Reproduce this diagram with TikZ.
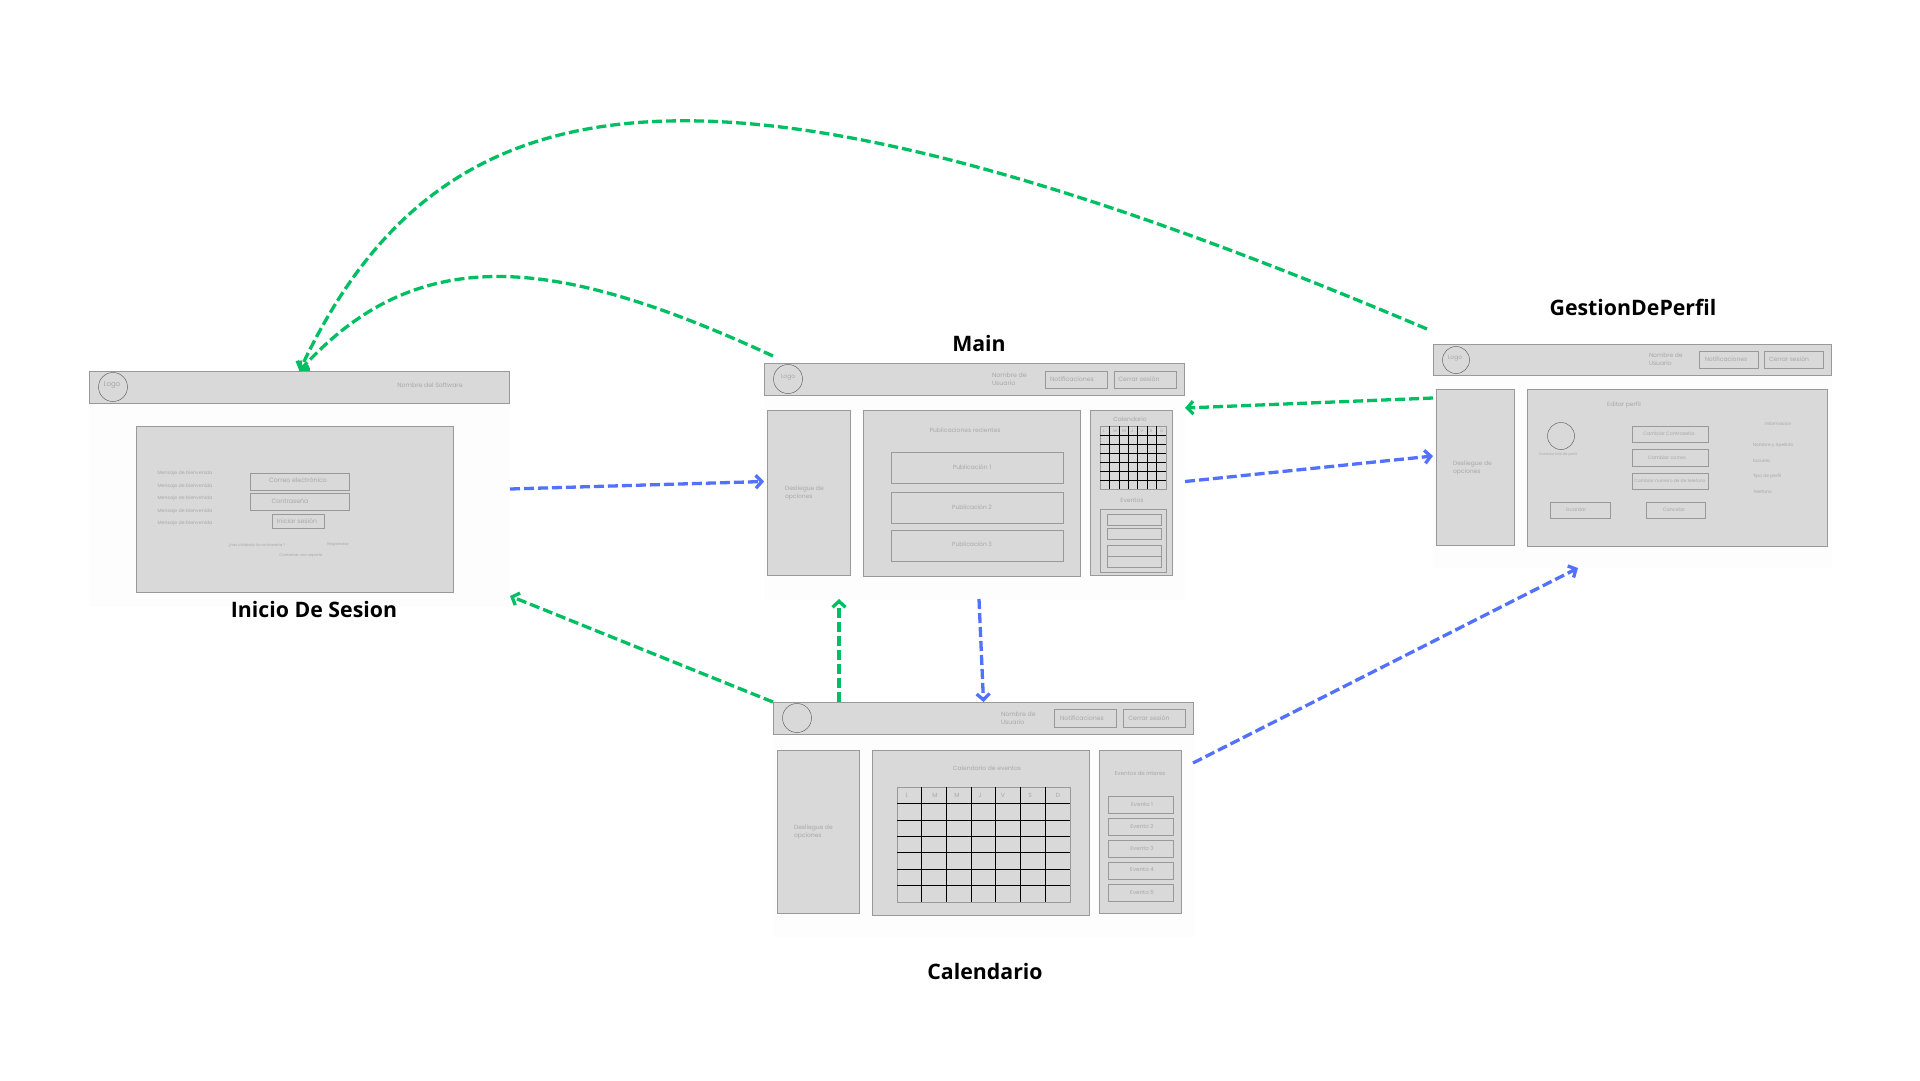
\documentclass[tikz,border=0pt]{standalone}
\usepackage{fontspec}
\setmainfont{Poppins}
\newfontfamily\titlefont{Open Sans}
\usetikzlibrary{arrows.meta}
\definecolor{panelgray}{HTML}{D9D9D9}
\definecolor{edgegray}{HTML}{999999}
\definecolor{textgray}{HTML}{A8A8A8}
\definecolor{pagewhite}{HTML}{FDFDFD}
\definecolor{backgreen}{HTML}{00BF63}
\definecolor{goblue}{HTML}{5271FF}
\tikzset{
  wh/.style 2 args={minimum width=#1pt, minimum height=#2pt},
  pagebox/.style={fill=pagewhite, inner sep=0pt, outer sep=0pt},
  panel/.style={fill=panelgray, draw=edgegray, line width=0.7pt, inner sep=0pt, outer sep=0pt, text=textgray, font=\fontsize{6}{8}\selectfont},
  round/.style={circle, draw=black!60, line width=0.5pt, inner sep=0pt, outer sep=0pt, minimum size=#1pt},
  lbl/.style={text=textgray, inner sep=0pt, outer sep=0pt, align=left, font=\fontsize{#1}{8}\selectfont},
  heading/.style={text=black, inner sep=0pt, font=\titlefont\bfseries\fontsize{21.3}{25}\selectfont},
  gridline/.style={black, line width=0.7pt},
  backlink/.style={draw=backgreen, line width=3.3pt, dash pattern=on 10pt off 4pt, -{Straight Barb[length=6pt,width=13pt,line width=3.3pt]}},
  golink/.style={draw=goblue, line width=3.3pt, dash pattern=on 10pt off 4pt, -{Straight Barb[length=6pt,width=13pt,line width=3.3pt]}},
}
\begin{document}
\begin{tikzpicture}[x=1pt,y=-1pt]
\useasboundingbox (0,0) rectangle (1920,1080);
\fill[white] (0,0) rectangle (1920,1080);

% Inicio De Sesion
\node[pagebox, wh={421}{236}] (inicioPage) at (299.5,489) {};
\node[panel, wh={420}{32.5}] (inicioHead) at (299.5,387.5) {};
\node[round=29] (inicioLogo) at (113,387) {};
\node[lbl=7] (inicioLogoTxt) at (112,385) {Logo};
\node[lbl=6.2] (inicioSoft) at (430,385) {Nombre del Software};
\node[panel, wh={317.5}{166.5}] (inicioBody) at (295,509.5) {};
\node[lbl=4.7] (inicioMsgA) at (185,473) {Mensaje de bienvenida};
\node[lbl=4.7] (inicioMsgB) at (185,486) {Mensaje de bienvenida};
\node[lbl=4.7] (inicioMsgC) at (185,498) {Mensaje de bienvenida};
\node[lbl=4.7] (inicioMsgD) at (185,511) {Mensaje de bienvenida};
\node[lbl=4.7] (inicioMsgE) at (185,523) {Mensaje de bienvenida};
\node[panel, wh={99}{17}] (inicioMail) at (299.5,481.5) {};
\node[lbl=6.2] (inicioMailTxt) at (298,480) {Correo electrónico};
\node[panel, wh={99}{17}] (inicioPass) at (299.5,501.5) {};
\node[lbl=6.2] (inicioPassTxt) at (290,501) {Contraseña};
\node[panel, wh={52}{14}] (inicioBtn) at (298,521) {};
\node[lbl=6.2] (inicioBtnTxt) at (297,521) {Iniciar sesión};
\node[lbl=3.8] (inicioForgot) at (257,545) {¿has olvidado la contraseña ?};
\node[lbl=3.8] (inicioReg) at (338,545) {Registrarse};
\node[lbl=3.8] (inicioHelp) at (301,556) {Contactar con soporte};
\node[heading] (inicioTitle) at (314,610) {Inicio De Sesion};

% Main
\node[pagebox, wh={421}{237}] (mainPage) at (974.5,481.5) {};
\node[panel, wh={420}{32.5}] (mainHead) at (974.5,379.5) {};
\node[round=29] (mainLogo) at (788,379) {};
\node[lbl=6] (mainLogoTxt) at (788,377) {Logo};
\node[lbl=6.2, anchor=west] (mainUser) at (992,379) {Nombre de\\Usuario};
\node[panel, wh={62.5}{17}] (mainNotif) at (1076.5,379.5) {};
\node[lbl=6.2] (mainNotifTxt) at (1072,379) {Notificaciones};
\node[panel, wh={62.5}{17}] (mainExit) at (1145.5,379.5) {};
\node[lbl=6.2] (mainExitTxt) at (1139,379) {Cerrar sesión};
\node[panel, wh={83.5}{165.5}] (mainMenu) at (809,493) {};
\node[lbl=6, anchor=west] (mainMenuTxt) at (785,493) {Desliegue de\\opciones};
\node[panel, wh={217.5}{166.5}] (mainFeed) at (972,493.5) {};
\node[lbl=6] (mainFeedTxt) at (965,430) {Publicaciones recientes};
\node[panel, wh={172.5}{31.5}] (mainPubA) at (977.5,468) {};
\node[lbl=6] (mainPubATxt) at (972,467) {Publicación 1};
\node[panel, wh={172.5}{31}] (mainPubB) at (977.5,507.5) {};
\node[lbl=6] (mainPubBTxt) at (972,507) {Publicación 2};
\node[panel, wh={172.5}{31.5}] (mainPubC) at (977.5,546) {};
\node[lbl=6] (mainPubCTxt) at (972,544) {Publicación 3};
\node[panel, wh={82.5}{165.5}] (mainSide) at (1131.5,493) {};
\node[lbl=6] (mainCalTxt) at (1130,419) {Calendario};
\node[panel, wh={66}{63}] (mainCal) at (1133,457.5) {};
\node[lbl=4.5] (mainDayL) at (1104,431) {L};
\node[lbl=4.5] (mainDayM) at (1115,431) {M};
\node[lbl=4.5] (mainDayX) at (1124,431) {M};
\node[lbl=4.5] (mainDayJ) at (1132,431) {J};
\node[lbl=4.5] (mainDayV) at (1142,431) {V};
\node[lbl=4.5] (mainDayS) at (1151,431) {S};
\node[lbl=4.5] (mainDayD) at (1162,431) {D};
\foreach \k in {1,...,6} {
  \draw[gridline] (1100+\k*9.43,426) -- (1100+\k*9.43,489);
  \draw[gridline] (1100,426+\k*9) -- (1166,426+\k*9);
}
\node[lbl=6] (mainEvtTxt) at (1132,500) {Eventos};
\node[panel, wh={66}{63}] (mainEvt) at (1133,540.5) {};
\node[panel, wh={54}{11}] (mainEvtA) at (1134,519.5) {};
\node[panel, wh={54}{11}] (mainEvtB) at (1134,533.5) {};
\node[panel, wh={54}{11}] (mainEvtC) at (1134,550.5) {};
\node[panel, wh={54}{11}] (mainEvtD) at (1134,561.5) {};
\node[heading] (mainTitle) at (979,344) {Main};

% GestionDePerfil
\node[pagebox, wh={399}{224}] (perfilPage) at (1632.5,456) {};
\node[panel, wh={398}{31.5}] (perfilHead) at (1632.5,360) {};
\node[round=27] (perfilLogo) at (1456,360) {};
\node[lbl=6] (perfilLogoTxt) at (1455,358) {Logo};
\node[lbl=6, anchor=west] (perfilUser) at (1649,359) {Nombre de\\Usuario};
\node[panel, wh={59.5}{17}] (perfilNotif) at (1729,359.5) {};
\node[lbl=6] (perfilNotifTxt) at (1726,359) {Notificaciones};
\node[panel, wh={59.5}{17}] (perfilExit) at (1794,359.5) {};
\node[lbl=6] (perfilExitTxt) at (1789,359) {Cerrar sesión};
\node[panel, wh={78.5}{156.5}] (perfilMenu) at (1475.5,467.5) {};
\node[lbl=6, anchor=west] (perfilMenuTxt) at (1453,468) {Desliegue de\\opciones};
\node[panel, wh={300.5}{157.5}] (perfilEdit) at (1677.5,468) {};
\node[lbl=6] (perfilEditTxt) at (1624,405) {Editar perfil};
\node[round=27] (perfilFoto) at (1561,436) {};
\node[lbl=3.5] (perfilFotoTxt) at (1558,455) {Cambiar foto de perfil};
\node[panel, wh={76}{16}] (perfilPass) at (1670,434) {};
\node[lbl=4.8] (perfilPassTxt) at (1669,434) {Cambiar Contraseña};
\node[panel, wh={76}{17}] (perfilMail) at (1670,457.5) {};
\node[lbl=4.8] (perfilMailTxt) at (1667,458) {Cambiar correo};
\node[panel, wh={76}{16}] (perfilTel) at (1670,481) {};
\node[lbl=4.4] (perfilTelTxt) at (1670,481) {Cambiar numero de de telefono};
\node[panel, wh={60}{16}] (perfilSave) at (1580,510) {};
\node[lbl=4.8] (perfilSaveTxt) at (1576,510) {Guardar};
\node[panel, wh={59}{16}] (perfilCancel) at (1675.5,510) {};
\node[lbl=4.8] (perfilCancelTxt) at (1674,510) {Cancelar};
\node[lbl=4.4] (perfilInfo) at (1778,424) {Informacion};
\node[lbl=4.4, anchor=west] (perfilNombre) at (1753,445) {Nombre y Apellido};
\node[lbl=4.4, anchor=west] (perfilEscuela) at (1753,461) {Escuela};
\node[lbl=4.4, anchor=west] (perfilTipo) at (1753,476) {Tipo de perfil};
\node[lbl=4.4, anchor=west] (perfilFono) at (1753,492) {Telefono};
\node[heading] (perfilTitle) at (1633,307) {GestionDePerfil};

% Calendario
\node[pagebox, wh={421}{235}] (calPage) at (983.5,819.5) {};
\node[panel, wh={420}{32.5}] (calHead) at (983.5,718.5) {};
\node[round=29] (calLogo) at (797,718) {};
\node[lbl=6.2, anchor=west] (calUser) at (1001,718) {Nombre de\\Usuario};
\node[panel, wh={62.5}{18}] (calNotif) at (1085.5,718) {};
\node[lbl=6.2] (calNotifTxt) at (1082,718) {Notificaciones};
\node[panel, wh={62.5}{18}] (calExit) at (1154.5,718) {};
\node[lbl=6.2] (calExitTxt) at (1149,718) {Cerrar sesión};
\node[panel, wh={82.5}{163.5}] (calMenu) at (818.5,832) {};
\node[lbl=6, anchor=west] (calMenuTxt) at (794,832) {Desliegue de\\opciones};
\node[panel, wh={217.5}{165.5}] (calMid) at (981,833) {};
\node[lbl=6] (calMidTxt) at (987,768) {Calendario de eventos};
\node[panel, wh={173}{115}] (calGrid) at (983.5,844.5) {};
\node[lbl=6] (calDayL) at (907,795) {L};
\node[lbl=6] (calDayM) at (935,795) {M};
\node[lbl=6] (calDayX) at (957,795) {M};
\node[lbl=6] (calDayJ) at (980,795) {J};
\node[lbl=6] (calDayV) at (1003,795) {V};
\node[lbl=6] (calDayS) at (1030,795) {S};
\node[lbl=6] (calDayD) at (1058,795) {D};
\foreach \k in {1,...,6} {
  \draw[gridline] (897+\k*24.7,787) -- (897+\k*24.7,902);
  \draw[gridline] (897,787+\k*16.45) -- (1070,787+\k*16.45);
}
\node[panel, wh={82.5}{163.5}] (calSide) at (1140.5,832) {};
\node[lbl=5.6] (calSideTxt) at (1140,773) {Eventos de interes};
\node[panel, wh={65}{17}] (calEvtA) at (1140.5,804.5) {};
\node[lbl=5.6] (calEvtATxt) at (1142,804) {Evento 1};
\node[panel, wh={65}{17}] (calEvtB) at (1140.5,826.5) {};
\node[lbl=5.6] (calEvtBTxt) at (1142,826) {Evento 2};
\node[panel, wh={65}{17}] (calEvtC) at (1140.5,848.5) {};
\node[lbl=5.6] (calEvtCTxt) at (1142,848) {Evento 3};
\node[panel, wh={65}{17}] (calEvtD) at (1140.5,870.5) {};
\node[lbl=5.6] (calEvtDTxt) at (1142,870) {Evento 4};
\node[panel, wh={65}{17}] (calEvtE) at (1140.5,892.5) {};
\node[lbl=5.6] (calEvtETxt) at (1142,892) {Evento 5};
\node[heading] (calTitle) at (985,971) {Calendario};

% free ends of the links
\coordinate (perfilBackTop) at (1427,329);
\coordinate (mainBackTop) at (773,356);
\coordinate (perfilBackSide) at (1433,398);
\coordinate (mainBackSide) at (1185,408);
\coordinate (inicioBackLow) at (510,596);
\coordinate (calUp) at (839,702);
\coordinate (mainUp) at (839,599);
\coordinate (mainDown) at (979,599);
\coordinate (calSideOut) at (1193,763);
\coordinate (perfilUp) at (1578,568);

\draw[backlink] (perfilBackTop) .. controls (720,30) and (445,62) .. (inicioPage.north);
\draw[backlink] (mainBackTop) .. controls (560,258) and (420,238) .. (inicioPage.north);
\draw[backlink] (perfilBackSide) -- (mainBackSide);
\draw[backlink] (calPage.north west) -- (inicioBackLow);
\draw[backlink] (calUp) -- (mainUp);
\draw[golink] (inicioPage.east) -- (mainPage.west);
\draw[golink] (mainPage.east) -- (perfilPage.west);
\draw[golink] (mainDown) -- (calPage.north);
\draw[golink] (calSideOut) -- (perfilUp);
\end{tikzpicture}
\end{document}
